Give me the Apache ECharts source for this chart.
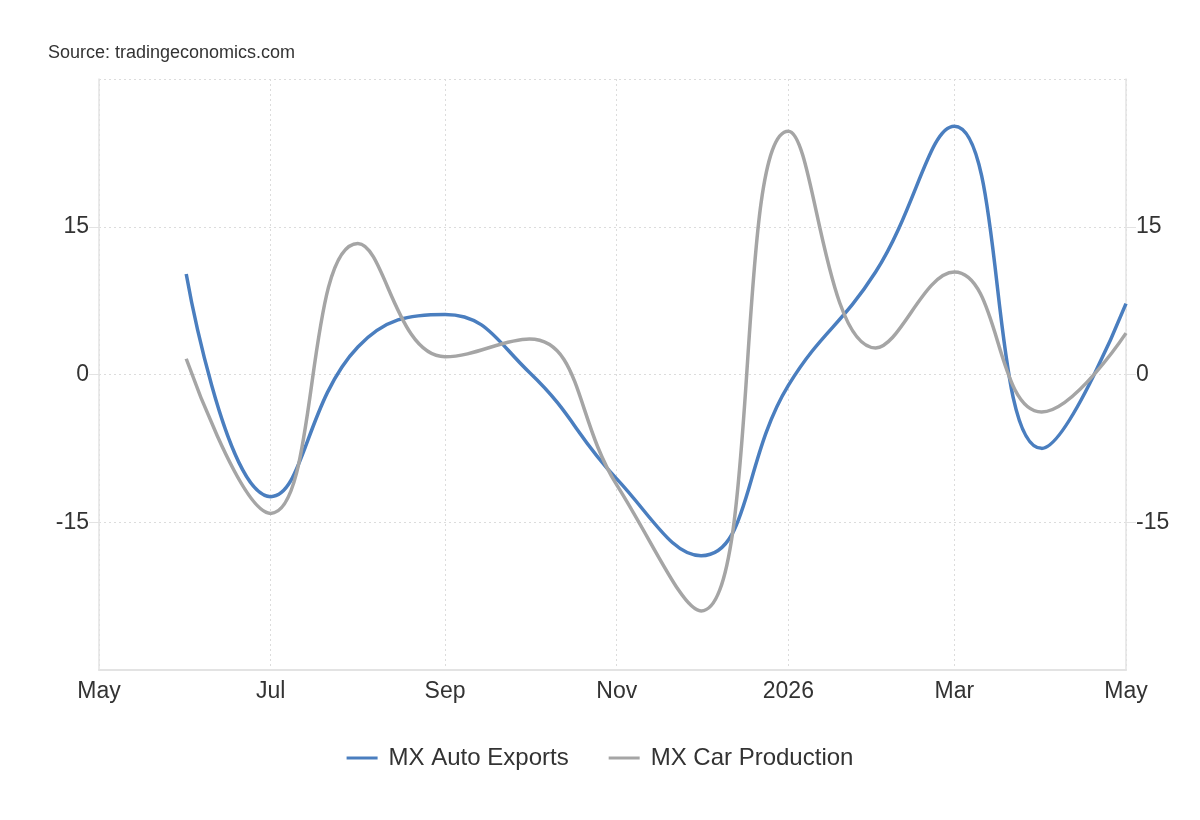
<!DOCTYPE html>
<html>
<head>
<meta charset="utf-8">
<script src="https://cdn.jsdelivr.net/npm/echarts@6/dist/echarts.min.js"></script>
<style>
  html, body { margin: 0; padding: 0; background: #fff; }
  #chart { width: 1200px; height: 820px; }
</style>
</head>
<body>
<div id="chart"></div>
<script>
  // monthly points, first day of each month
  var months = ['2025-06-01', '2025-07-01', '2025-08-01', '2025-09-01', '2025-10-01', '2025-11-01',
                '2025-12-01', '2026-01-01', '2026-02-01', '2026-03-01', '2026-04-01', '2026-05-01'];
  var autoExports = [10.2, -12.4, 2.8, 6.1, 0.2, -10.6, -18.4, -1.1, 10.4, 25.2, -7.5, 7.2];
  var carProduction = [1.6, -14.1, 13.3, 1.8, 3.6, -11.2, -24.0, 24.7, 2.7, 10.4, -3.8, 4.2];

  // x ticks every two months
  var tickDates = ['2025-05-01', '2025-07-01', '2025-09-01', '2025-11-01', '2026-01-01', '2026-03-01', '2026-05-01'];
  var tickLabels = ['May', 'Jul', 'Sep', 'Nov', '2026', 'Mar', 'May'];

  function toTime(d) { return Date.UTC(+d.slice(0, 4), +d.slice(5, 7) - 1, +d.slice(8, 10)); }
  var tickTimes = tickDates.map(toTime);
  function pairs(vals) {
    return months.map(function (m, i) { return [toTime(m), vals[i]]; });
  }

  var chart = echarts.init(document.getElementById('chart'));
  var font = 'Liberation Sans, Arial, sans-serif';

  var yAxisCommon = {
    type: 'value',
    min: -30,
    max: 30,
    interval: 15,
    axisLine: { show: true, lineStyle: { color: '#e3e3e3', width: 1.5 } },
    axisTick: { show: true, length: 10, lineStyle: { color: '#e3e3e3' } },
    axisLabel: {
      color: '#333', fontSize: 23, fontFamily: font, margin: 10,
      showMinLabel: false, showMaxLabel: false
    }
  };

  var option = {
    animation: false,
    backgroundColor: '#fff',
    title: {
      text: 'Source: tradingeconomics.com',
      left: 43,
      top: 39,
      textStyle: { color: '#333', fontSize: 18, fontWeight: 'normal', fontFamily: font }
    },
    legend: {
      top: 741,
      left: 'center',
      icon: 'rect',
      itemWidth: 31,
      itemHeight: 3,
      itemGap: 40,
      textStyle: { color: '#333', fontSize: 24, fontFamily: font, padding: [0, 0, 0, 6] },
      data: ['MX Auto Exports', 'MX Car Production']
    },
    grid: { left: 99, right: 74, top: 79, bottom: 150 },
    xAxis: {
      type: 'value',
      min: tickTimes[0],
      max: tickTimes[tickTimes.length - 1],
      axisLine: { onZero: false, lineStyle: { color: '#e3e3e3', width: 2 } },
      axisTick: { show: false, customValues: tickTimes },
      axisLabel: {
        customValues: tickTimes,
        color: '#333', fontSize: 23, fontFamily: font, margin: 10,
        formatter: function (v) {
          var i = tickTimes.indexOf(v);
          return i >= 0 ? tickLabels[i] : '';
        }
      },
      splitLine: { show: true, lineStyle: { color: '#dcdcdc', type: [2, 3] } }
    },
    yAxis: [
      Object.assign({}, yAxisCommon, {
        position: 'left',
        splitLine: { show: true, lineStyle: { color: '#dcdcdc', type: [2, 3] } }
      }),
      Object.assign({}, yAxisCommon, {
        position: 'right',
        splitLine: { show: false }
      })
    ],
    series: [
      {
        name: 'MX Auto Exports',
        type: 'line',
        smooth: 0.45,
        showSymbol: false,
        lineStyle: { color: '#4a7ebf', width: 3.5 },
        itemStyle: { color: '#4a7ebf' },
        data: pairs(autoExports)
      },
      {
        name: 'MX Car Production',
        type: 'line',
        yAxisIndex: 1,
        smooth: 0.45,
        showSymbol: false,
        lineStyle: { color: '#a5a5a5', width: 3.5 },
        itemStyle: { color: '#a5a5a5' },
        data: pairs(carProduction)
      }
    ]
  };

  chart.setOption(option);
</script>
</body>
</html>
